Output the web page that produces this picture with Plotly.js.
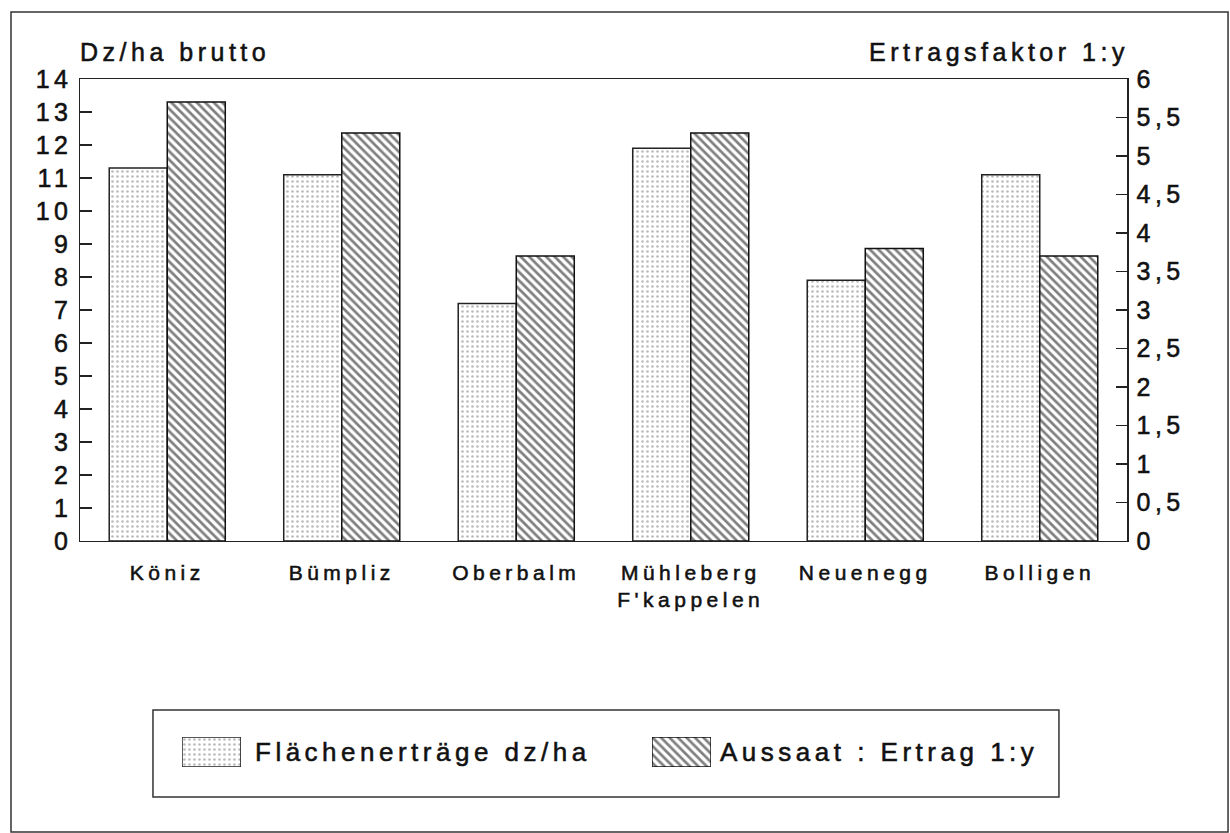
<!DOCTYPE html>
<html><head><meta charset="utf-8">
<script src="https://cdn.plot.ly/plotly-3.0.1.min.js"></script>
<style>
html,body{margin:0;padding:0;background:#fff;}
text{letter-spacing:4.5px;}
#chart text{stroke:#111;stroke-width:0.55px;}
</style></head><body>
<div id="chart" style="width:1230px;height:833px;"></div>
<script>
// ---- data ----
const categories = ['Köniz', 'Bümpliz', 'Oberbalm', "Mühleberg<br>F'kappelen", 'Neuenegg', 'Bolligen'];
const flaechenertraege = [11.3, 11.1, 7.2, 11.9, 7.9, 11.1];   // Dz/ha brutto (left axis)
const ertragsfaktor = [5.7, 5.3, 3.7, 5.3, 3.8, 3.7];           // Ertragsfaktor 1:y (right axis)
const seriesNames = ['Flächenerträge dz/ha', 'Aussaat : Ertrag 1:y'];
const axisTitles = ['Dz/ha brutto', 'Ertragsfaktor 1:y'];
const swatchValue = [1];

const FONT = 'Liberation Sans, Arial, Helvetica, sans-serif';
const dotted = {color: '#ffffff', line: {color: '#222', width: 1.5},
  pattern: {shape: '.', fgcolor: '#777', bgcolor: '#ffffff', size: 5, solidity: 0.22, fillmode: 'overlay'}};
const hatched = {color: '#ffffff', line: {color: '#111', width: 1.5},
  pattern: {shape: '\\', fgcolor: '#000', bgcolor: '#ffffff', size: 6, solidity: 0.45, fillmode: 'overlay'}};

const traces = [
  {type: 'bar', name: seriesNames[0], x: categories, y: flaechenertraege, xaxis: 'x', yaxis: 'y',
   offsetgroup: 'a', marker: dotted, hoverinfo: 'skip', showlegend: false},
  {type: 'bar', name: seriesNames[1], x: categories, y: ertragsfaktor, xaxis: 'x', yaxis: 'y2',
   offsetgroup: 'b', marker: hatched, hoverinfo: 'skip', showlegend: false},
  // legend swatches
  {type: 'bar', x: [seriesNames[0]], y: swatchValue, width: 1, xaxis: 'x2', yaxis: 'y3',
   marker: dotted, hoverinfo: 'skip', showlegend: false},
  {type: 'bar', x: [seriesNames[1]], y: swatchValue, width: 1, xaxis: 'x3', yaxis: 'y4',
   marker: hatched, hoverinfo: 'skip', showlegend: false}
];

const mainBottom = 0.38727;
const tickFont = {family: FONT, size: 25, color: '#111'};
const hidden = {visible: false, fixedrange: true};

const layout = {
  width: 1230, height: 833,
  margin: {l: 80, r: 103, t: 79, b: 0, pad: 0},
  paper_bgcolor: '#fff', plot_bgcolor: 'rgba(0,0,0,0)',
  separators: ',.',
  barmode: 'group', bargap: 0.335, bargroupgap: 0,
  font: {family: FONT, color: '#111'},
  xaxis: {domain: [0, 1], anchor: 'y', type: 'category', showline: true, mirror: true,
    linecolor: '#222', linewidth: 1.5, ticks: '', showgrid: false, zeroline: false,
    tickfont: {family: FONT, size: 21, color: '#111'}, ticklabelstandoff: 12, fixedrange: true},
  yaxis: {domain: [mainBottom, 1], anchor: 'x', range: [0, 14], dtick: 1, tick0: 0,
    showline: true, linecolor: '#222', linewidth: 1.5, ticks: 'inside', ticklen: 12, tickwidth: 1.2,
    tickcolor: '#222', showgrid: false, zeroline: false, tickfont: tickFont, ticklabelstandoff: 1, fixedrange: true},
  yaxis2: {overlaying: 'y', side: 'right', anchor: 'x', range: [0, 6], dtick: 0.5, tick0: 0,
    showline: true, linecolor: '#222', linewidth: 1.5, ticks: 'inside', ticklen: 11, tickwidth: 1.2,
    tickcolor: '#222', showgrid: false, zeroline: false, tickfont: tickFont, ticklabelstandoff: 3, fixedrange: true},
  xaxis2: Object.assign({domain: [0.0974, 0.1537], anchor: 'y3', type: 'category', range: [-0.5, 0.5]}, hidden),
  yaxis3: Object.assign({domain: [0.0875, 0.1273], anchor: 'x2', range: [0, 1]}, hidden),
  xaxis3: Object.assign({domain: [0.5463, 0.6027], anchor: 'y4', type: 'category', range: [-0.5, 0.5]}, hidden),
  yaxis4: Object.assign({domain: [0.0875, 0.1273], anchor: 'x3', range: [0, 1]}, hidden),
  shapes: [
    {type: 'rect', xref: 'paper', yref: 'paper', x0: -0.0659, x1: 1.0965, y0: 0.0013, y1: 1.0889,
     line: {color: '#333', width: 1.5}, fillcolor: 'rgba(0,0,0,0)', layer: 'below'},
    {type: 'rect', xref: 'paper', yref: 'paper', x0: 0.0697, x1: 0.935, y0: 0.0477, y1: 0.1631,
     line: {color: '#333', width: 1.5}, fillcolor: 'rgba(0,0,0,0)', layer: 'below'}
  ],
  annotations: [
    {text: axisTitles[0], xref: 'paper', yref: 'paper', x: -0.002, y: 1.036, xanchor: 'left', yanchor: 'middle',
     showarrow: false, font: {family: FONT, size: 25, color: '#111'}},
    {text: axisTitles[1], xref: 'paper', yref: 'paper', x: 1.004, y: 1.036, xanchor: 'right', yanchor: 'middle',
     showarrow: false, font: {family: FONT, size: 25, color: '#111'}},
    {text: seriesNames[0], xref: 'paper', yref: 'paper', x: 0.1652, y: 0.1074, xanchor: 'left', yanchor: 'middle',
     showarrow: false, font: {family: FONT, size: 26, color: '#111'}},
    {text: seriesNames[1], xref: 'paper', yref: 'paper', x: 0.6094, y: 0.1074, xanchor: 'left', yanchor: 'middle',
     showarrow: false, font: {family: FONT, size: 26, color: '#111'}}
  ]
};

Plotly.newPlot('chart', traces, layout, {staticPlot: true, displayModeBar: false});
</script></body></html>
